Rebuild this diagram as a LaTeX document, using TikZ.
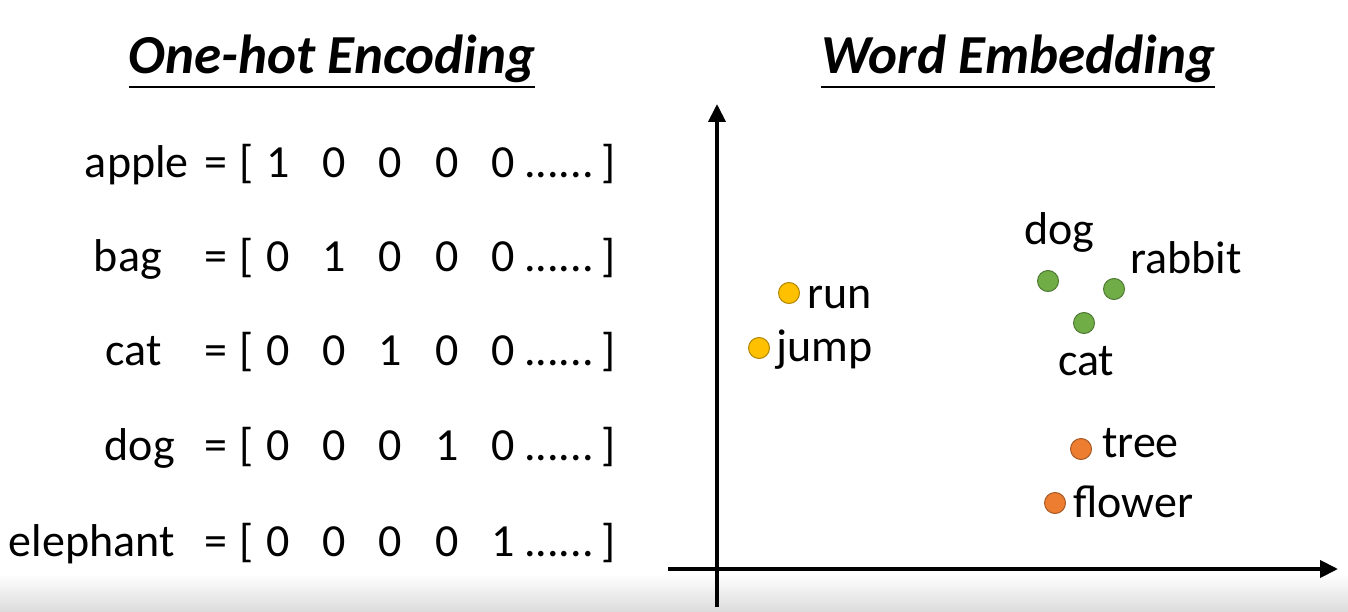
\documentclass[tikz,border=0pt]{standalone}
\usepackage{fontspec}
\setmainfont{Carlito}
\usetikzlibrary{arrows.meta,positioning}
\definecolor{ptYellow}{HTML}{FFC000}
\definecolor{ptGreen}{HTML}{70AD47}
\definecolor{ptOrange}{HTML}{ED7D31}
\tikzset{
  txt/.style={inner sep=0pt, font=\fontsize{46}{50}\selectfont},
  ttl/.style={inner sep=0pt, anchor=base, font=\fontsize{55}{60}\selectfont\bfseries\itshape},
  pt/.style={circle, inner sep=0pt, minimum size=21pt, line width=1pt, fill=#1, draw=#1!70!black},
  axis/.style={line width=4pt, -{Triangle[length=18pt,width=17pt]}}
}
\begin{document}
\begin{tikzpicture}[x=1pt,y=-1pt]
\useasboundingbox (0,0) rectangle (1348,612);
% Fondo
\shade[top color=white, bottom color=black!14] (0,574) rectangle (1348,612);
% Titulos
\node[ttl] (t1) at (332,74) {One-hot Encoding};
\node[ttl] (t2) at (1018,74) {Word Embedding};
\draw[line width=2pt] ([yshift=-13pt]t1.base west) -- ([yshift=-13pt]t1.base east);
\draw[line width=2pt] ([yshift=-13pt]t2.base west) -- ([yshift=-13pt]t2.base east);
% One-hot
\foreach \w/\xr/\y [count=\i] in {apple/189/178, bag/162/272, cat/162/365, dog/175/460, elephant/175/556}{
  \node[txt, anchor=base east] (w-\i) at (\xr,\y) {\w};
  \node[txt, anchor=base] (eq-\i) at (216,\y) {=};
  \node[txt, anchor=base] (lb-\i) at (247,\y) {[};
  \foreach \j in {1,...,5}
    \node[txt, anchor=base] (b-\i-\j) at ({278+(\j-1)*56.3},\y) {\ifnum\i=\j\relax 1\else 0\fi};
  \node[txt, anchor=base west] (dt-\i) at (524,\y) {......};
  \node[txt, anchor=base] (rb-\i) at (609,\y) {]};
}
% Ejes
\coordinate (xs) at (668,569);
\coordinate (xe) at (1338,569);
\coordinate (ys) at (717,607);
\coordinate (ye) at (717,104);
\draw[axis] (xs) -- (xe);
\draw[axis] (ys) -- (ye);
% Puntos
\node[pt=ptYellow] (run) at (789,293) {};
\node[pt=ptYellow] (jump) at (759,348) {};
\node[pt=ptGreen] (dog) at (1048,281) {};
\node[pt=ptGreen] (rabbit) at (1114,289) {};
\node[pt=ptGreen] (cat) at (1084,323) {};
\node[pt=ptOrange] (tree) at (1081,449) {};
\node[pt=ptOrange] (flower) at (1055,503) {};
% Etiquetas
\node[txt, anchor=base west] (l-run) at (807,308) {run};
\node[txt, anchor=base west] (l-jump) at (776,361) {jump};
\node[txt, anchor=base west] (l-dog) at (1024,244) {dog};
\node[txt, anchor=base west] (l-rabbit) at (1130,273) {rabbit};
\node[txt, anchor=base west] (l-cat) at (1058,375) {cat};
\node[txt, anchor=base west] (l-tree) at (1102,457) {tree};
\node[txt, anchor=base west] (l-flower) at (1073,517) {flower};
\end{tikzpicture}
\end{document}
